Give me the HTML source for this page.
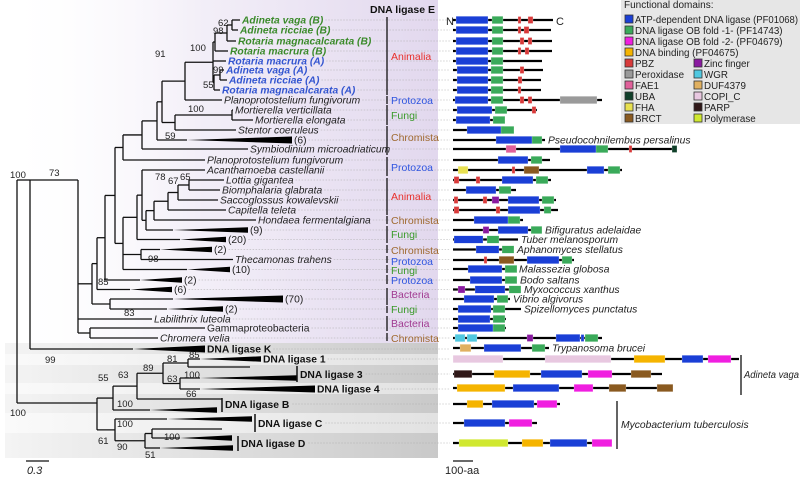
<!DOCTYPE html>
<html><head><meta charset="utf-8">
<style>
html,body{margin:0;padding:0;background:#fff;}
svg{display:block;font-family:"Liberation Sans",sans-serif;}
</style></head>
<body>
<svg id="fig" width="800" height="478" viewBox="0 0 800 478" xmlns="http://www.w3.org/2000/svg">
<defs>
<linearGradient id="lav" x1="0" x2="1" y1="0" y2="0">
<stop offset="0" stop-color="#fff" stop-opacity="0"/><stop offset="0.45" stop-color="#f3eff8"/><stop offset="1" stop-color="#e2d8ee"/></linearGradient>
<linearGradient id="gdark" x1="0" x2="1"><stop offset="0" stop-color="#f4f4f4"/><stop offset="1" stop-color="#c9c9c9"/></linearGradient>
<linearGradient id="glight" x1="0" x2="1"><stop offset="0" stop-color="#fafafa"/><stop offset="1" stop-color="#e2e2e2"/></linearGradient>
</defs>
<rect x="0" y="0" width="438" height="344" fill="url(#lav)"/>
<g id="bands"></g>
<g id="leaders"></g>
<g id="tree"></g>
<g id="labels"></g>
<g id="boot" font-size="9.5" fill="#222"></g>
<g id="groups" font-size="10.5"></g>
<g id="domains"></g>
<g id="legend"></g>
</svg>
<script>
var NS="http://www.w3.org/2000/svg";
function mk(tag,attrs,parent,text){var e=document.createElementNS(NS,tag);for(var k in attrs)e.setAttribute(k,attrs[k]);if(text!==undefined)e.textContent=text;(parent||document.getElementById('fig')).appendChild(e);return e;}
var G=function(id){return document.getElementById(id);};

var bands=[[343,354,'gdark'],[354,365,'glight'],[365,383,'gdark'],[383,394,'glight'],[394,413,'gdark'],[413,433,'glight'],[433,458,'gdark']];
bands.forEach(function(b){var r=mk('rect',{x:5,y:b[0],width:433,height:b[1]-b[0],fill:'url(#'+b[2]+')'},G('bands'));

});

var leaves={
aVB:[20,240,'Adineta vaga (B)','g'],aRB:[30,238,'Adineta ricciae (B)','g'],rMB:[41,236,'Rotaria magnacalcarata (B)','g'],rmB:[51,228,'Rotaria macrura (B)','g'],
rmA:[61,226,'Rotaria macrura (A)','b'],aVA:[70,224,'Adineta vaga (A)','b'],aRA:[80,227,'Adineta ricciae (A)','b'],rMA:[90,220,'Rotaria magnacalcarata (A)','b'],
pf1:[100,222,'Planoprotostelium fungivorum','i'],mv:[110,233,'Mortierella verticillata','i'],me:[120,253,'Mortierella elongata','i'],st:[130,236,'Stentor coeruleus','i'],
w6:[140,292,'(6)','n',187],sy:[149,248,'Symbiodinium microadriaticum','i'],pf2:[160,205,'Planoprotostelium fungivorum','i'],ac:[170,205,'Acanthamoeba castellanii','i'],
lo:[180,224,'Lottia gigantea','i'],bi:[190,220,'Biomphalaria glabrata','i'],sa:[200,218,'Saccoglossus kowalevskii','i'],ca:[210,226,'Capitella teleta','i'],
ho:[220,256,'Hondaea fermentalgiana','i'],w9:[230,248,'(9)','n',173],w20:[239.5,226,'(20)','n',180],w2c:[249.5,212,'(2)','n',160],
th:[259.5,233,'Thecamonas trahens','i'],w10:[269.5,230,'(10)','n',187],w2p:[280,182,'(2)','n',140],w6b:[289.5,172,'(6)','n',130],
w70:[299,283,'(70)','n',173],w2f:[309,223,'(2)','n',167],la:[319,152,'Labilithrix luteola','i'],ga:[328,205,'Gammaproteobacteria','n'],
cv:[338,158,'Chromera velia','i'],K:[349,205,'DNA ligase K','k',133],L1:[359,261,'DNA ligase 1','k',200],L1t:[367,250,'',''],
L3:[378,297,'','',200],L4:[389,315,'DNA ligase 4','k',200],Bt:[399,222,'',''],B:[410,217,'','',150],C:[419,252,'','',167],
Dt:[429,222,'',''],D1:[438,232,'','',180],D2:[448,233,'','',160]};
var nodes={
root:[17,['A30','Bot']],A30:[30,['N78','K']],N78:[78,['N92','la','N90']],N90:[90,['ga','cv']],N92:[92,['N97','N110']],
N110:[110,['w70','w2f']],N97:[97,['N105','w6b']],N105:[105,['N115','w2p']],N115:[115,['N123','N123b']],
N123:[123,['N142','pf2']],N142:[142,['N157','sy']],N157:[157,['N162','w6']],N162:[162,['N185','N175']],
N175:[175,['Nm','st']],Nm:[232,['mv','me']],N185:[185,['N213','pf1']],N213:[213,['N215','rmA','N214']],
N215:[215,['N227','rmB']],N227:[227,['N232','rMB']],N232:[232,['aVB','aRB']],N214:[214,['N220','rMA']],N220:[220,['aVA','aRA']],
N123b:[123,['N137','N141','w10']],N137:[137,['N142b','w20']],N142b:[142,['ac','N146']],N146:[146,['N154','w9']],
N154:[154,['N168','ho']],N168:[168,['N178','ca']],N178:[178,['N189','sa']],N189:[189,['lo','bi']],N141:[141,['w2c','th']],
Bot:[97,['N113','N115b']],N113:[113,['N137L','B']],N137L:[137,['N163','Bt']],N163:[163,['N188','N180']],
N188:[188,['L1','L1t']],N180:[180,['L3','L4']],N115b:[115,['C','N145']],N145:[145,['N152','D2']],N152:[152,['Dt','D1']]};
var yOverride={A30:180,N78:180,Bot:403};
function ny(id){if(leaves[id])return leaves[id][0];if(yOverride[id]!==undefined)return yOverride[id];var c=nodes[id][1];return (ny(c[0])+ny(c[c.length-1]))/2;}
var T=G('tree');
function line(x1,y1,x2,y2,p,w){return mk('line',{x1:x1,y1:y1,x2:x2,y2:y2,stroke:'#111','stroke-width':w||1.3},p);}
function draw(id,px){
  if(leaves[id]){var L=leaves[id],y=L[0];
    if(L[4]!==undefined){var l=line(px,y,L[4],y,T);
      var h=(id=='w70'||id=='w6'||id=='K'||id=='L4')?7:5.5;
      var p=mk('polygon',{points:L[4]+','+y+' '+L[1]+','+(y-h/2)+' '+L[1]+','+(y+h/2),fill:'#000'},T);
      
      }
    else{var l2=line(px,y,L[1],y,T);}
    return;}
  var n=nodes[id],x=n[0],y=ny(id);
  if(px!==null){var hl=line(px,y,x,y,T);}
  var c=n[1];var y1=Math.min(ny(c[0]),y),y2=Math.max(ny(c[c.length-1]),y);
  var v=line(x,y1,x,y2,T);
  c.forEach(function(ch){draw(ch,x);});
}
draw('root',null);

var LB=G('labels');
Object.keys(leaves).forEach(function(id){var L=leaves[id];if(!L[2])return;
  var a={x:L[1]+2,y:L[0]+3.5,'font-size':10.3,fill:'#222'};
  if(L[3]=='g'){a.fill='#3a8a2a';a['font-weight']='bold';a['font-style']='italic';}
  if(L[3]=='b'){a.fill='#3355d0';a['font-weight']='bold';a['font-style']='italic';}
  if(L[3]=='i'){a['font-style']='italic';}
  if(L[3]=='k'){a['font-weight']='bold';a.fill='#111';}
  var t=mk('text',a,LB,L[2]);
  
  
  var end=L[1]+4+t.getComputedTextLength();
  var d=mk('line',{x1:end,y1:L[0],x2:450,y2:L[0],stroke:'#aaa','stroke-width':0.6,'stroke-dasharray':'1.5,1.5'},G('leaders'));
  
  
});
var bl=[[297,366,382,374,'DNA ligase 3'],[222,398,412,404,'DNA ligase B'],[255,414,432,423,'DNA ligase C'],[238,436,451,443,'DNA ligase D']];
bl.forEach(function(b){line(b[0],b[1],b[0],b[2],LB,1.5);
  var t=mk('text',{x:b[0]+3,y:b[3]+4,'font-size':10.3,'font-weight':'bold',fill:'#111'},LB,b[4]);
  
  
  mk('line',{x1:b[0]+6+t.getComputedTextLength(),y1:b[3],x2:450,y2:b[3],stroke:'#aaa','stroke-width':0.6,'stroke-dasharray':'1.5,1.5'},G('leaders'));});

var boots=[[10,178,'100'],[49,176,'73'],[155,57,'91'],[190,51,'100'],[218,26,'62'],[213,34,'98'],[213,73,'99'],[203,88,'55'],
[188,112,'100'],[165,139,'59'],[155,180,'78'],[168,184,'67'],[180,180,'65'],[148,262,'98'],[98,285,'85'],[124,316,'83'],
[45,363,'99'],[10,416,'100'],[98,381,'55'],[118,378,'63'],[143,371,'89'],[167,362,'81'],[189,358,'85'],[167,382,'63'],[184,378,'100'],
[186,397,'66'],[117,407,'100'],[117,427,'100'],[98,444,'61'],[117,450,'90'],[164,440,'100'],[145,458,'51']];
boots.forEach(function(b){var t=mk('text',{x:b[0],y:b[1]},G('boot'),b[2]);
  
  });

var gc={A:'#e8302c',P:'#2f55e0',F:'#3a9a2a',C:'#a06a30',B:'#a03a90'};
var groups=[[17,95,56,'Animalia','A'],[96,104,100,'Protozoa','P'],[105,125,115,'Fungi','F'],[126,155,137,'Chromista','C'],
[157,176,167,'Protozoa','P'],[178,215,196,'Animalia','A'],[216,224,220,'Chromista','C'],[226,243,234,'Fungi','F'],
[245,253,250,'Chromista','C'],[256,263,261,'Protozoa','P'],[265,273,270,'Fungi','F'],[275,284,280,'Protozoa','P'],
[288,305,294,'Bacteria','B'],[306,313,309,'Fungi','F'],[316,331,323,'Bacteria','B'],[333,341,338,'Chromista','C']];
groups.forEach(function(g){line(387,g[0],387,g[1],G('groups'),1.3);
  var t=mk('text',{x:391,y:g[2]+4,fill:gc[g[4]]},G('groups'),g[3]);
  
  });
var tt=mk('text',{x:370,y:13,'font-size':10.5,'font-weight':'bold',fill:'#111'},G('groups'),'DNA ligase E');



line(26,461,49,461,G('tree'),1.3);
var sc=mk('text',{x:27,y:474,'font-size':11,'font-style':'italic',fill:'#222'},G('tree'),'0.3');



var DC={atp:'#1a3fd6',ob1:'#3aaa5a',ob2:'#f01ee0',bind:'#f5b400',pbz:'#d83a3a',per:'#9a9a9a',fae:'#e0609a',uba:'#10402a',
fha:'#e8e050',brct:'#8a5a20',zn:'#8a1aa0',wgr:'#50c8e0',duf:'#e0b060',copi:'#e8c8e0',parp:'#301818',pol:'#d0e830'};
var rows=[
[20,553,[['atp',456,488],['ob1',492,503],['pbz',518,521],['pbz',528,533]]],
[30,551,[['atp',456,488],['ob1',492,503],['pbz',518,521],['pbz',524,529]]],
[41,552,[['atp',456,488],['ob1',492,503],['pbz',520,524],['pbz',528,532]]],
[51,552,[['atp',456,488],['ob1',492,503],['pbz',518,521],['pbz',525,529]]],
[61,542,[['atp',456,488],['ob1',491,503]]],
[70,543,[['atp',457,488],['ob1',491,503],['pbz',520,524]]],
[80,541,[['atp',457,488],['ob1',491,503],['pbz',518,522]]],
[90,541,[['atp',457,488],['ob1',491,503],['pbz',518,521]]],
[100,602,[['atp',455,488],['ob1',491,503],['pbz',520,524],['pbz',528,532],['per',560,597]]],
[110,537,[['atp',457,492],['ob1',495,507],['pbz',532,536]]],
[120,505,[['atp',456,490],['ob1',493,505]]],
[130,514,[['atp',467,504],['ob1',501,514]]],
[140,545,[['atp',496,533],['ob1',532,542]],'Pseudocohnilembus persalinus'],
[149,677,[['fae',506,516],['atp',560,597],['ob1',596,608],['pbz',629,632],['uba',672,677]]],
[160,550,[['atp',498,528],['ob1',531,542]]],
[170,622,[['fha',458,468],['pbz',512,515],['brct',524,539],['atp',587,604],['ob1',608,620]]],
[180,551,[['pbz',454,459],['pbz',476,480],['atp',502,533],['ob1',536,548]]],
[190,516,[['atp',466,496],['ob1',499,511]]],
[200,556,[['pbz',454,458],['pbz',483,487],['zn',492,499],['atp',508,539],['ob1',542,554]]],
[210,558,[['pbz',454,459],['pbz',496,500],['atp',508,540],['ob1',544,551]]],
[220,523,[['atp',474,509],['ob1',508,520]]],
[230,542,[['zn',483,489],['atp',498,528],['ob1',531,542]],'Bifiguratus adelaidae'],
[239.5,518,[['atp',454,483],['ob1',487,499]],'Tuber melanosporum'],
[249.5,514,[['atp',476,499],['ob1',502,514]],'Aphanomyces stellatus'],
[260,574,[['pbz',484,487],['brct',499,514],['atp',527,559],['ob1',562,572]]],
[269,516,[['atp',468,502],['ob1',505,517]],'Malassezia globosa'],
[280,517,[['atp',470,502],['ob1',505,517]],'Bodo saltans'],
[289.5,521,[['zn',458,465],['atp',475,505],['ob1',509,521]],'Myxococcus xanthus'],
[299,510,[['atp',464,494],['ob1',497,508]],'Vibrio algivorus'],
[309,521,[['atp',458,491],['ob1',493,505]],'Spizellomyces punctatus'],
[319,506,[['atp',458,490],['ob1',493,505]]],
[328,506,[['atp',458,495],['ob1',493,505]]],
[338,602,[['wgr',455,465],['wgr',467,477],['zn',527,533],['atp',556,580],['atp',581,584],['ob1',585,598]]],
[348,549,[['duf',460,471],['atp',484,521],['ob1',532,545]],'Trypanosoma brucei'],
[359,739,[['copi',453,503],['copi',545,611],['bind',634,665],['atp',682,703],['ob2',708,731]]],
[374,662,[['parp',454,472],['bind',494,530],['atp',541,582],['ob2',588,612],['brct',631,651]]],
[388,673,[['bind',457,505],['atp',513,559],['ob2',574,593],['brct',609,626],['brct',657,673]]],
[404,560,[['bind',467,483],['atp',492,534],['ob2',537,557]]],
[423,537,[['atp',464,505],['ob2',509,532]]],
[443,612,[['pol',459,508],['bind',522,543],['atp',550,587],['ob2',592,612]]]];
var D=G('domains');
rows.forEach(function(r){var y=r[0];
  var bb=mk('line',{x1:453,y1:y,x2:r[1],y2:y,stroke:'#000','stroke-width':2.2},D);
  
  
  r[2].forEach(function(d){var h=(d[2]-d[1]<8)?7:7.5;
    var rc=mk('rect',{x:d[1],y:y-h/2,width:d[2]-d[1],height:h,fill:DC[d[0]],stroke:'rgba(255,255,255,0.5)','stroke-width':0.5},D);
    
    });
  if(r[3]){var t=mk('text',{x:r[1]+3,y:y+3.5,'font-size':10.3,'font-style':'italic',fill:'#222'},D,r[3]);
    
    }
});
mk('text',{x:446,y:25,'font-size':11,fill:'#222'},D,'N');
mk('text',{x:556,y:25,'font-size':11,fill:'#222'},D,'C');
line(741,355,741,395,D,1.3);
var av=mk('text',{x:744,y:378,'font-size':10,'font-style':'italic',fill:'#222',textLength:55,lengthAdjust:'spacingAndGlyphs'},D,'Adineta vaga');


line(617,401,617,449,D,1.3);
var mt=mk('text',{x:621,y:428,'font-size':10.3,'font-style':'italic',fill:'#222'},D,'Mycobacterium tuberculosis');


line(453,461,473,461,D,1.3);
var aa=mk('text',{x:445,y:474,'font-size':11,fill:'#222'},D,'100-aa');



var LG=G('legend');
var lb=mk('rect',{x:621,y:0,width:179,height:124,fill:'#e6e6e6'},LG);


mk('text',{x:624,y:8,'font-size':10,fill:'#222'},LG,'Functional domains:');
var leg=[[625,20,'atp','ATP-dependent DNA ligase (PF01068)'],[625,31,'ob1','DNA ligase OB fold -1- (PF14743)'],[625,42,'ob2','DNA ligase OB fold -2- (PF04679)'],
[625,53,'bind','DNA binding (PF04675)'],[625,64,'pbz','PBZ'],[625,75,'per','Peroxidase'],[625,86,'fae','FAE1'],[625,97,'uba','UBA'],[625,108,'fha','FHA'],[625,119,'brct','BRCT'],
[694,64,'zn','Zinc finger'],[694,75,'wgr','WGR'],[694,86,'duf','DUF4379'],[694,97,'copi','COPI_C'],[694,108,'parp','PARP'],[694,119,'pol','Polymerase']];
leg.forEach(function(l){var s=mk('rect',{x:l[0],y:l[1]-5,width:8,height:8,fill:DC[l[2]],stroke:'#333','stroke-width':0.8},LG);
  
  
  var t=mk('text',{x:l[0]+10,y:l[1]+3,'font-size':9.8,fill:'#222'},LG,l[3]);
  
  
  if(t.getComputedTextLength()>163){t.setAttribute('textLength',163);t.setAttribute('lengthAdjust','spacingAndGlyphs');}});
</script>
</body></html>
